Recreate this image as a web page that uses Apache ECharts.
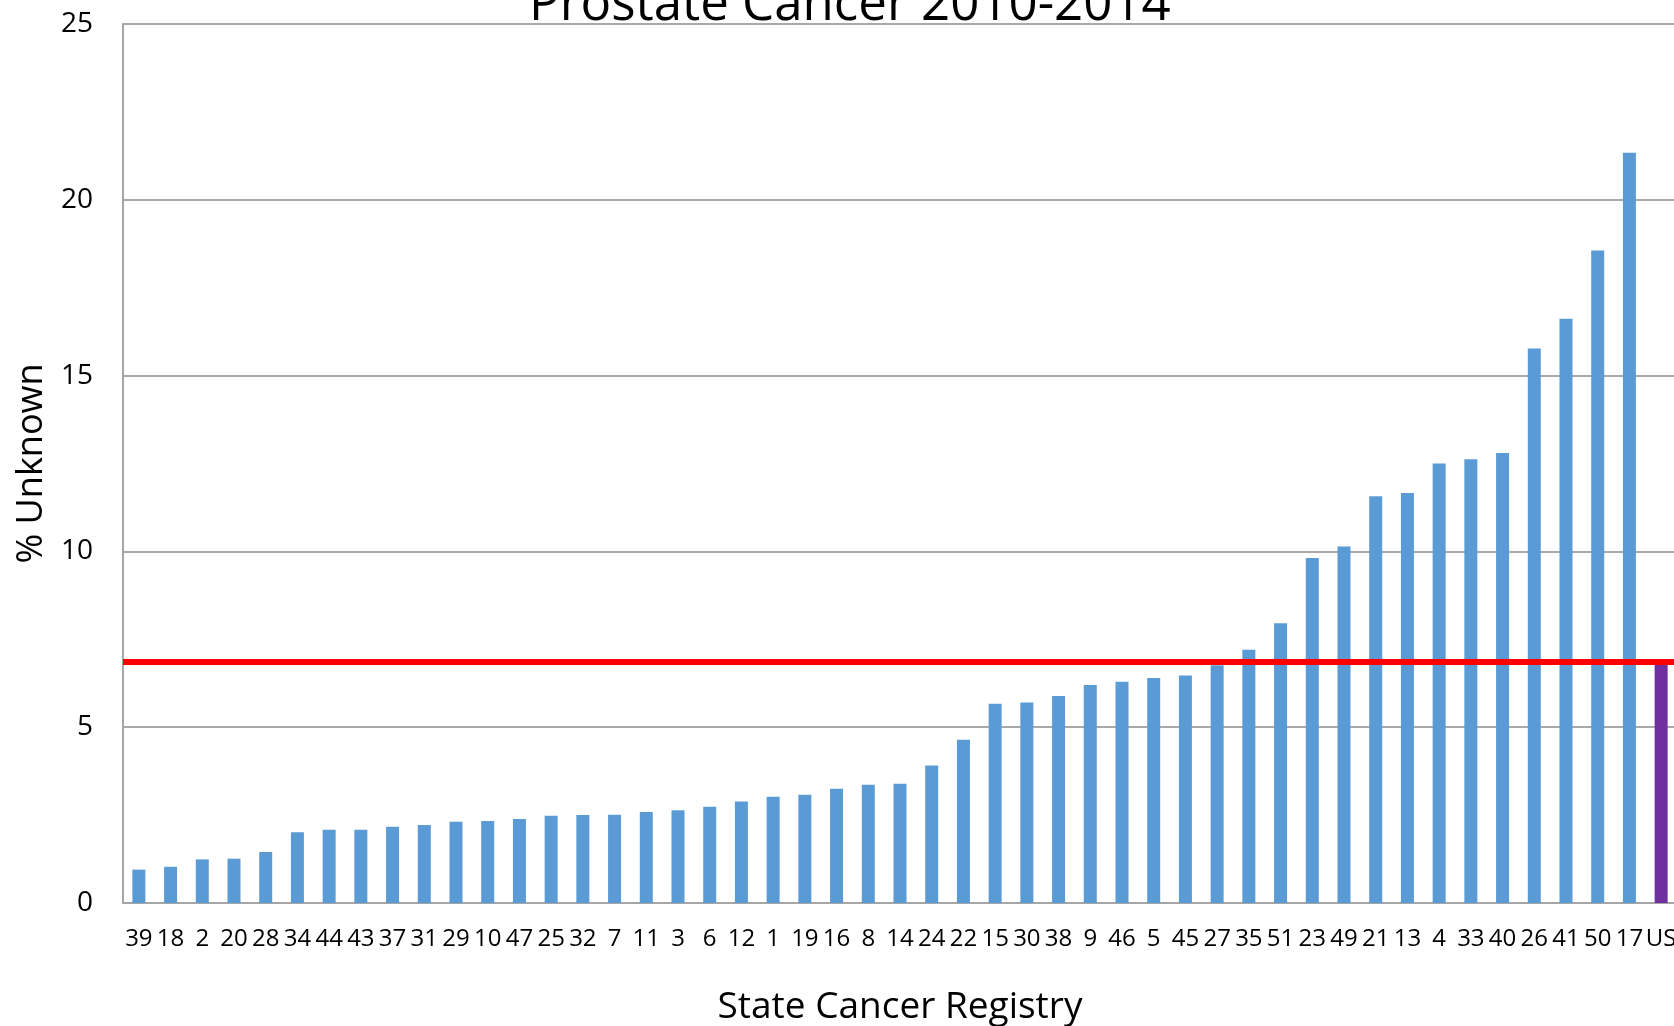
<!DOCTYPE html>
<html>
<head>
<meta charset="utf-8">
<title>Prostate Cancer 2010-2014</title>
<script src="https://cdn.jsdelivr.net/npm/echarts@6/dist/echarts.min.js"></script>
<style>
  html, body { margin: 0; padding: 0; background: #fff; }
  #chart { width: 1674px; height: 1026px; }
</style>
</head>
<body>
<div id="chart"></div>
<script>
// registry codes, sorted by % unknown
var registries = ['39', '18', '2', '20', '28', '34', '44', '43', '37', '31', '29', '10', '47', '25', '32', '7', '11', '3', '6', '12',
    '1', '19', '16', '8', '14', '24', '22', '15', '30', '38', '9', '46', '5', '45', '27', '35', '51', '23', '49', '21',
    '13', '4', '33', '40', '26', '41', '50', '17', 'US'];
var pctUnknown = [0.95, 1.03, 1.24, 1.26, 1.45, 2.01, 2.08, 2.08, 2.17, 2.22, 2.31, 2.33, 2.39, 2.48, 2.50, 2.51, 2.59, 2.64, 2.74, 2.89,
    3.02, 3.08, 3.25, 3.36, 3.39, 3.91, 4.64, 5.67, 5.70, 5.89, 6.20, 6.29, 6.40, 6.47, 6.76, 7.20, 7.96, 9.81, 10.14, 11.57,
    11.66, 12.50, 12.62, 12.80, 15.77, 16.62, 18.56, 21.34, 6.85];
var usAverage = 6.86;
var yTicks = [0, 5, 10, 15, 20, 25];

var font = '"Open Sans", "Noto Sans", sans-serif';
var myChart = echarts.init(document.getElementById('chart'));

var barData = pctUnknown.map(function (v, i) {
    if (registries[i] === 'US') {
        return { value: v, itemStyle: { color: '#7030A0' } };
    }
    return v;
});

var option = {
    animation: false,
    title: {
        text: 'Prostate Cancer 2010-2014',
        left: 524,
        top: -25,
        textStyle: { fontFamily: font, fontSize: 51, fontWeight: 'normal', color: '#000' }
    },
    // plot runs a little past the right edge, like the original
    grid: { left: 123, top: 24, width: 1554, height: 879, outerBoundsMode: 'none', containLabel: false },
    xAxis: {
        type: 'category',
        data: registries,
        name: 'State Cancer Registry',
        nameLocation: 'middle',
        nameGap: 86,
        nameTextStyle: { fontFamily: font, fontSize: 37, color: '#000' },
        axisLine: { lineStyle: { color: '#a6a6a6', width: 2 } },
        axisTick: { show: false },
        axisLabel: { interval: 0, margin: 24, fontFamily: font, fontSize: 24, color: '#000' }
    },
    yAxis: {
        type: 'value',
        min: yTicks[0],
        max: yTicks[yTicks.length - 1],
        interval: yTicks[1] - yTicks[0],
        name: '% Unknown',
        nameLocation: 'middle',
        nameRotate: 90,
        nameGap: 73,
        nameTextStyle: { fontFamily: font, fontSize: 36, color: '#000' },
        axisLine: { show: true, lineStyle: { color: '#a6a6a6', width: 2 } },
        axisTick: { show: false },
        axisLabel: { margin: 30, fontFamily: font, fontSize: 28, color: '#000' },
        splitLine: { lineStyle: { color: '#8c8c8c', width: 1.5 } }
    },
    series: [
        {
            name: '% Unknown',
            type: 'bar',
            data: barData,
            barWidth: 13,
            itemStyle: { color: '#5B9BD5' },
            markLine: {
                silent: true,
                symbol: 'none',
                label: { show: false },
                lineStyle: { color: '#FF0000', width: 6, type: 'solid' },
                data: [{ yAxis: usAverage }]
            }
        }
    ]
};
myChart.setOption(option);
</script>
</body>
</html>
